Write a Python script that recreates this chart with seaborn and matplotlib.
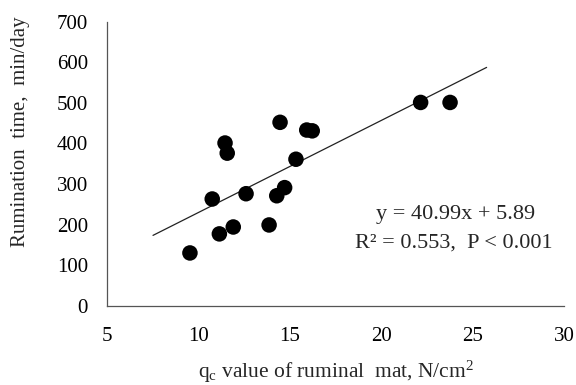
import numpy as np
import pandas as pd
import matplotlib
matplotlib.use("Agg")
import matplotlib.pyplot as plt
import seaborn as sns

# Data
qc_value = [9.52, 10.74, 11.13, 11.44, 11.56, 11.89, 12.59, 13.85, 14.27, 14.70,
            14.45, 15.32, 15.91, 16.21, 22.14, 23.75]
rumination_time = [130, 263, 177, 401, 376, 194, 276, 199, 271, 291,
                   452, 361, 433, 431, 501, 501]
trend_x_range = [7.5, 25.75]
x_ticks = [5, 10, 15, 20, 25, 30]
y_ticks = [0, 100, 200, 300, 400, 500, 600, 700]
equation_text = "y = 40.99x + 5.89"
stats_text = "R² = 0.553,  P < 0.001"

sns.set_style("white")
plt.rcParams['font.family'] = ['Liberation Serif', 'DejaVu Serif']
plt.rcParams['mathtext.fontset'] = 'custom'
plt.rcParams['mathtext.rm'] = 'Liberation Serif'
plt.rcParams['mathtext.it'] = 'Liberation Serif'

df = pd.DataFrame({"qc": qc_value, "rt": rumination_time})

fig = plt.figure(figsize=(5.76, 3.85), dpi=100)
ax = fig.add_axes([0.1863, 0.206, 0.9797 - 0.1863, 0.9436 - 0.206])

# trend line (least squares fit), drawn over the reference's x span
slope, intercept = np.polyfit(df["qc"], df["rt"], 1)
line_df = pd.DataFrame({"x": trend_x_range,
                        "y": [slope * v + intercept for v in trend_x_range]})
sns.lineplot(data=line_df, x="x", y="y", ax=ax, color="#222222", linewidth=0.9)

sns.scatterplot(data=df, x="qc", y="rt", ax=ax, color="black", s=125,
                edgecolor="none", zorder=3)

ax.set_xlim(5, 30)
ax.set_ylim(0, 700)
ax.set_xticks(x_ticks)
ax.set_yticks(y_ticks)
ax.tick_params(direction="in", length=5, width=0.8, colors="#444444",
               labelcolor="black", labelsize=15)
ax.tick_params(axis="y", pad=14)
ax.tick_params(axis="x", pad=15)
for side in ["top", "right"]:
    ax.spines[side].set_visible(False)
for side in ["left", "bottom"]:
    ax.spines[side].set_color("#555555")
    ax.spines[side].set_linewidth(0.9)

ax.set_xlabel(r"q$_\mathregular{c}$ value of ruminal  mat, N/cm$^\mathregular{2}$",
              fontsize=15.5, va="center")
ax.xaxis.set_label_coords(0.5, -0.233)
ax.set_ylabel("Rumination  time,  min/day", fontsize=15, va="center")
ax.yaxis.set_label_coords(-0.191, 0.611)

ax.text(24.07, 224, equation_text, ha="center", va="center", fontsize=16)
ax.text(23.96, 155, stats_text, ha="center", va="center", fontsize=16)

fig.savefig("out.png", dpi=100)
